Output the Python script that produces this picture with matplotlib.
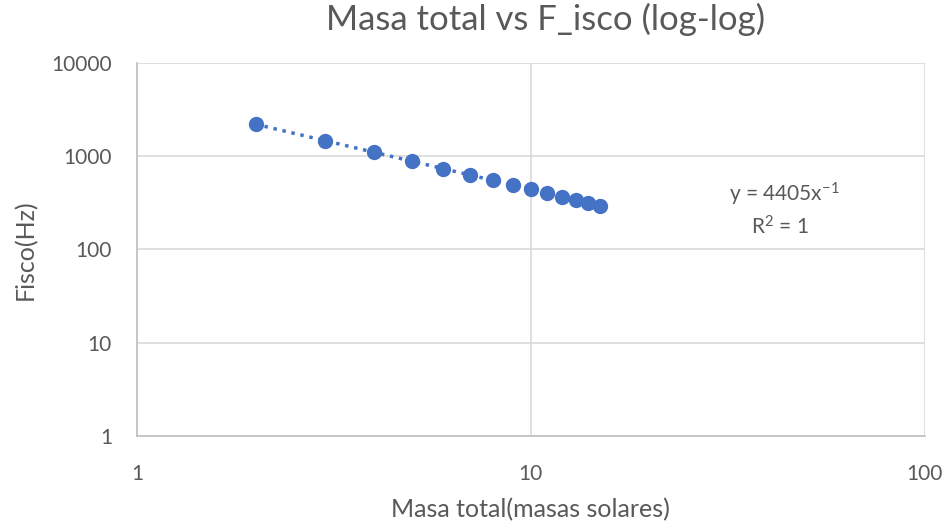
import matplotlib.pyplot as plt
import numpy as np

# masa total (masas solares) vs frecuencia ISCO (Hz)
masa = [2, 3, 4, 5, 6, 7, 8, 9, 10, 11, 12, 13, 14, 15]
fisco = [2202, 1468, 1101, 881, 734, 629, 551, 489, 440, 400, 367, 339, 315, 294]

# linea de tendencia potencial y = a * x^b
trend_a = 4405
trend_b = -1

azul = '#4472C4'
gris = '#595959'

plt.rcParams['font.family'] = ['Lato', 'DejaVu Sans']
plt.rcParams['axes.unicode_minus'] = False

fig = plt.figure(figsize=(9.48, 5.29), dpi=100)
ax = fig.add_axes([0.1445, 0.176, 0.831, 0.705])

xs = np.linspace(min(masa), max(masa), 100)
ax.plot(xs, trend_a * xs ** trend_b, linestyle=':', color=azul, linewidth=2.5, zorder=2)
ax.plot(masa, fisco, 'o', color=azul, markersize=10, zorder=3)

ax.set_xscale('log')
ax.set_yscale('log')
ax.set_xlim(1, 100)
ax.set_ylim(1, 10000)
ax.set_xticks([1, 10, 100])
ax.set_xticklabels(['1', '10', '100'])
ax.set_yticks([1, 10, 100, 1000, 10000])
ax.set_yticklabels(['1', '10', '100', '1000', '10000'])
ax.minorticks_off()

ax.grid(True, color='#D9D9D9', linewidth=1.2)
ax.set_axisbelow(True)
for s in ['top', 'right']:
    ax.spines[s].set_visible(False)
for s in ['left', 'bottom']:
    ax.spines[s].set_color('#BFBFBF')
    ax.spines[s].set_linewidth(1.2)
ax.tick_params(length=0, colors=gris, labelsize=15)
ax.tick_params(axis='x', pad=20)
ax.tick_params(axis='y', pad=18)

ax.set_xlabel('Masa total(masas solares)', fontsize=18, color=gris, labelpad=10)
ax.set_ylabel('Fisco(Hz)', fontsize=18, color=gris, labelpad=10)
fig.suptitle('Masa total vs F_isco (log-log)', fontsize=25, color=gris, x=0.575, y=0.995)

fig.text(0.827, 0.632, r'y = 4405x$\mathregular{^{-1}}$', ha='center', va='center', fontsize=15, color=gris)
fig.text(0.823, 0.572, r'R$\mathregular{^{2}}$ = 1', ha='center', va='center', fontsize=15, color=gris)

fig.savefig('out.png', dpi=100)
